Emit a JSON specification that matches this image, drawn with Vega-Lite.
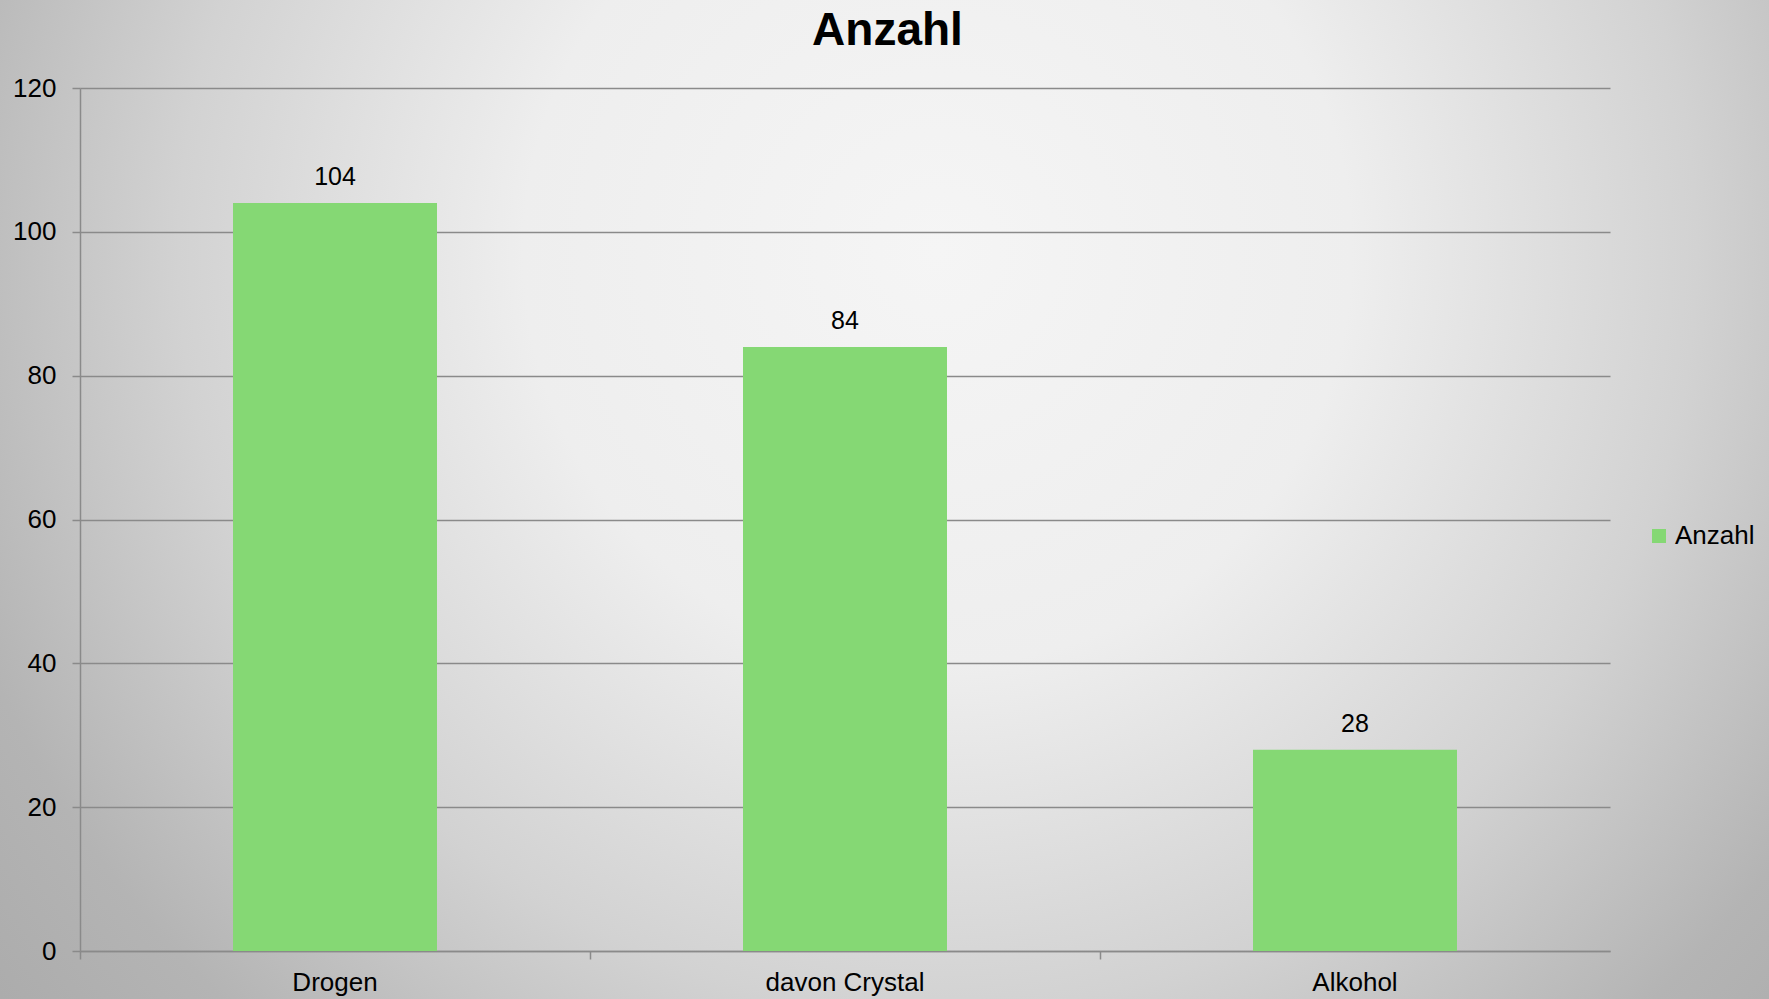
{
  "$schema": "https://vega.github.io/schema/vega-lite/v6.json",
  "width": 1769,
  "height": 999,
  "autosize": {"type": "none"},
  "padding": 0,
  "background": "#a8a8a8",
  "config": {
    "font": "Liberation Sans",
    "view": {
      "stroke": null,
      "fill": {
        "gradient": "radial",
        "x1": 0.53, "y1": 0.36, "r1": 0,
        "x2": 0.53, "y2": 0.36, "r2": 0.78,
        "stops": [
          {"offset": 0, "color": "#f5f5f5"},
          {"offset": 0.3, "color": "#eeeeee"},
          {"offset": 0.55, "color": "#d2d2d2"},
          {"offset": 0.75, "color": "#b4b4b4"},
          {"offset": 1, "color": "#a3a3a3"}
        ]
      }
    }
  },
  "title": {
    "text": "Anzahl",
    "fontSize": 46,
    "fontWeight": "bold",
    "color": "#000000",
    "anchor": "middle",
    "frame": "group",
    "offset": -55,
    "dx": 3
  },
  "data": {
    "values": [
      {"Kategorie": "Drogen", "Anzahl": 104, "Serie": "Anzahl"},
      {"Kategorie": "davon Crystal", "Anzahl": 84, "Serie": "Anzahl"},
      {"Kategorie": "Alkohol", "Anzahl": 28, "Serie": "Anzahl"}
    ]
  },
  "encoding": {
    "x": {
      "field": "Kategorie",
      "type": "nominal",
      "sort": null,
      "scale": {"range": [80, 1610], "paddingInner": 0.6, "paddingOuter": 0.3},
      "axis": {
        "title": null,
        "offset": -48,
        "labelAngle": 0,
        "labelFontSize": 26,
        "labelColor": "#000000",
        "labelPadding": 10,
        "tickSize": 8,
        "tickColor": "#8a8a8a",
        "tickWidth": 1.5,
        "domainColor": "#8a8a8a",
        "domainWidth": 1.5,
        "bandPosition": -0.75,
        "grid": false
      }
    },
    "y": {
      "field": "Anzahl",
      "type": "quantitative",
      "scale": {"domain": [0, 120], "range": [951, 88], "nice": false},
      "axis": {
        "title": null,
        "offset": -80,
        "values": [0, 20, 40, 60, 80, 100, 120],
        "labelFontSize": 26,
        "labelColor": "#000000",
        "labelPadding": 16,
        "tickSize": 8,
        "tickColor": "#8a8a8a",
        "tickWidth": 1.5,
        "domainColor": "#8a8a8a",
        "domainWidth": 1.5,
        "grid": true,
        "gridColor": "#8a8a8a",
        "gridWidth": 1.5,
        "gridOpacity": 1
      }
    }
  },
  "layer": [
    {
      "mark": {"type": "bar"},
      "encoding": {
        "color": {
          "field": "Serie",
          "type": "nominal",
          "scale": {"range": ["#85d874"]},
          "legend": {
            "title": null,
            "orient": "none",
            "legendX": 1646,
            "legendY": 523,
            "padding": 0,
            "symbolType": "square",
            "symbolSize": 196,
            "symbolStrokeWidth": 0,
            "labelFontSize": 26,
            "labelColor": "#000000",
            "labelOffset": 3
          }
        }
      }
    },
    {
      "mark": {"type": "text", "fontSize": 25, "color": "#000000", "baseline": "alphabetic", "dy": -18},
      "encoding": {
        "text": {"field": "Anzahl", "type": "quantitative"}
      }
    }
  ]
}
